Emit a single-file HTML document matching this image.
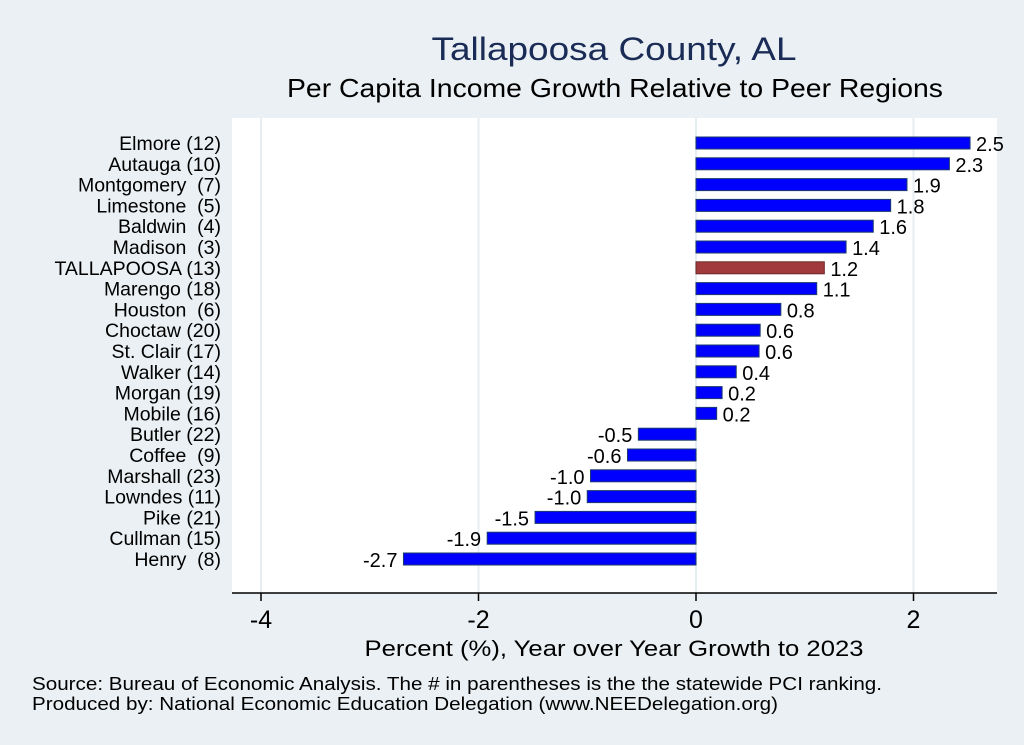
<!DOCTYPE html>
<html><head><meta charset="utf-8"><style>
body{margin:0;background:#eaf0f3;}
svg{display:block;font-family:"Liberation Sans",sans-serif;}
</style></head><body>
<svg id="chart" width="1024" height="745">
<rect x="0" y="0" width="1024" height="745" fill="#eaf0f3"/>
<rect x="232" y="118" width="765" height="475" fill="#ffffff"/>
<text x="614" y="60" text-anchor="middle" font-size="32" textLength="365" lengthAdjust="spacingAndGlyphs" fill="#1a2b56">Tallapoosa County, AL</text>
<text x="615" y="97" text-anchor="middle" font-size="26" textLength="656" lengthAdjust="spacingAndGlyphs" fill="#000">Per Capita Income Growth Relative to Peer Regions</text>
<text x="614" y="656" text-anchor="middle" font-size="22" textLength="499" lengthAdjust="spacingAndGlyphs" fill="#000">Percent (%), Year over Year Growth to 2023</text>
<text x="32" y="690" font-size="18" textLength="850" lengthAdjust="spacingAndGlyphs" fill="#000">Source: Bureau of Economic Analysis. The # in parentheses is the the statewide PCI ranking.</text>
<text x="32" y="710" font-size="18" textLength="746" lengthAdjust="spacingAndGlyphs" fill="#000">Produced by: National Economic Education Delegation (www.NEEDelegation.org)</text>
<g id="grid"></g><g id="bars"></g><g id="axis"></g>
</svg>
<script>
const categories=["Elmore (12)","Autauga (10)","Montgomery  (7)","Limestone  (5)","Baldwin  (4)","Madison  (3)","TALLAPOOSA (13)","Marengo (18)","Houston  (6)","Choctaw (20)","St. Clair (17)","Walker (14)","Morgan (19)","Mobile (16)","Butler (22)","Coffee  (9)","Marshall (23)","Lowndes (11)","Pike (21)","Cullman (15)","Henry  (8)"];
const values=[2.52,2.33,1.94,1.79,1.63,1.38,1.18,1.11,0.78,0.59,0.58,0.37,0.24,0.19,-0.53,-0.63,-0.97,-1.0,-1.48,-1.92,-2.69];
const highlight="TALLAPOOSA (13)";
const ticks=[-4,-2,0,2];
const NS="http://www.w3.org/2000/svg";
const x=v=>696+v*108.75;
const y=i=>143+i*20.8;
function mk(t,a,p){const e=document.createElementNS(NS,t);for(const k in a)e.setAttribute(k,a[k]);p.appendChild(e);return e;}
const grid=document.getElementById('grid'),bars=document.getElementById('bars'),axis=document.getElementById('axis');
ticks.forEach(t=>{
 const g=mk('line',{x1:x(t),x2:x(t),y1:118,y2:593,stroke:'#e6eef2','stroke-width':2},grid);
 
 
 const tl=mk('line',{x1:x(t),x2:x(t),y1:593,y2:601,stroke:'#000','stroke-width':1.5},axis);
 
 
 const tx=mk('text',{x:x(t),y:628,'text-anchor':'middle','font-size':25},axis);
 tx.textContent=t;
 
 
});
const ax=mk('line',{x1:232,x2:997,y1:593,y2:593,stroke:'#000','stroke-width':1.5},axis);


categories.forEach((c,i)=>{
 const v=values[i],cy=y(i);
 const x0=Math.min(x(0),x(v)),w=Math.abs(x(v)-x(0));
 const r=mk('rect',{x:x0,y:cy-6,width:w,height:12,fill:c===highlight?'#a03a3c':'#0000ff',stroke:c===highlight?'#6e2a2c':'#1a3a6e','stroke-width':1},bars);
 
 
 const lb=mk('text',{x:v>=0?x(v)+6:x(v)-6,y:cy+8,'text-anchor':v>=0?'start':'end','font-size':20},bars);
 lb.textContent=v.toFixed(1);
 
 
 const cl=mk('text',{x:221,y:cy+7,'text-anchor':'end','font-size':19.5},bars);
 cl.textContent=c;
 cl.style.whiteSpace='pre';
 
 
});
</script>
</body></html>
